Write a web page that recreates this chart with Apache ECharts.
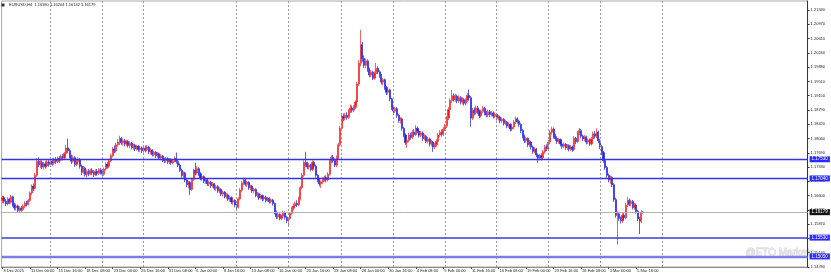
<!DOCTYPE html>
<html><head><meta charset="utf-8">
<script src="https://cdn.jsdelivr.net/npm/echarts@6/dist/echarts.min.js"></script>
<style>html,body{margin:0;padding:0;background:#fff;}#c{width:831px;height:279px;}</style>
</head><body><div id="c"></div>
<script>
const symbolTitle = 'EURUSD,H4';
const headerOHLC = ['1.16180', '1.16204', '1.16142', '1.16179'];
const xTickLabels = ['8 Dec 2025', '11 Dec 00:00', '15 Dec 16:00', '18 Dec 08:00', '23 Dec 00:00', '26 Dec 16:00',
  '31 Dec 08:00', '6 Jan 00:00', '8 Jan 16:00', '13 Jan 08:00', '16 Jan 00:00', '20 Jan 16:00', '23 Jan 08:00',
  '28 Jan 00:00', '30 Jan 16:00', '4 Feb 08:00', '9 Feb 00:00', '11 Feb 16:00', '16 Feb 08:00', '19 Feb 00:00',
  '23 Feb 16:00', '26 Feb 08:00', '3 Mar 00:00', '5 Mar 16:00'];
const yTickLabels = ['1.14780', '1.15140', '1.15510', '1.15870', '1.16230', '1.16600', '1.16960', '1.17330',
  '1.17690', '1.18060', '1.18420', '1.18790', '1.19150', '1.19510', '1.19880', '1.20240', '1.20610', '1.20970', '1.21340'];
const yTickStep = 0.00364381;
const yFirstTick = 1.14780;
const yTop = 1.21569;
// [open, close, low, high]
const candles = [
[1.1648,1.1655,1.1641,1.1660],[1.1655,1.1646,1.1640,1.1659],[1.1646,1.1639,1.1633,1.1651],[1.1639,1.1651,1.1635,1.1656],
[1.1651,1.1643,1.1638,1.1655],[1.1643,1.1657,1.1640,1.1662],[1.1657,1.1636,1.1632,1.1660],[1.1636,1.1629,1.1623,1.1642],
[1.1629,1.1634,1.1622,1.1640],[1.1634,1.1622,1.1617,1.1637],[1.1622,1.1628,1.1618,1.1633],[1.1628,1.1625,1.1619,1.1634],
[1.1625,1.1633,1.1621,1.1638],[1.1633,1.1641,1.1628,1.1646],[1.1641,1.1638,1.1632,1.1647],[1.1638,1.1648,1.1635,1.1652],
[1.1648,1.1667,1.1644,1.1671],[1.1667,1.1684,1.1662,1.1689],[1.1684,1.1679,1.1672,1.1691],[1.1679,1.1712,1.1676,1.1718],
[1.1712,1.1748,1.1708,1.1756],[1.1748,1.1739,1.1733,1.1758],[1.1739,1.1745,1.1731,1.1751],[1.1745,1.1733,1.1728,1.1750],
[1.1733,1.1741,1.1727,1.1746],[1.1741,1.1736,1.1729,1.1748],[1.1736,1.1746,1.1732,1.1752],[1.1746,1.1740,1.1734,1.1751],
[1.1740,1.1748,1.1735,1.1754],[1.1748,1.1743,1.1737,1.1755],[1.1743,1.1752,1.1739,1.1757],[1.1752,1.1747,1.1741,1.1758],
[1.1747,1.1755,1.1743,1.1760],[1.1755,1.1751,1.1744,1.1761],[1.1751,1.1760,1.1748,1.1765],[1.1760,1.1756,1.1750,1.1766],
[1.1756,1.1768,1.1752,1.1772],[1.1768,1.1782,1.1763,1.1790],[1.1782,1.1775,1.1768,1.1806],[1.1775,1.1760,1.1755,1.1780],
[1.1760,1.1748,1.1741,1.1765],[1.1748,1.1757,1.1744,1.1763],[1.1757,1.1740,1.1734,1.1761],[1.1740,1.1746,1.1736,1.1752],
[1.1746,1.1752,1.1740,1.1758],[1.1752,1.1735,1.1729,1.1756],[1.1735,1.1720,1.1713,1.1739],[1.1720,1.1730,1.1716,1.1736],
[1.1730,1.1714,1.1709,1.1734],[1.1714,1.1722,1.1707,1.1727],[1.1722,1.1716,1.1710,1.1728],[1.1716,1.1724,1.1712,1.1729],
[1.1724,1.1719,1.1713,1.1730],[1.1719,1.1714,1.1708,1.1725],[1.1714,1.1722,1.1710,1.1727],[1.1722,1.1717,1.1711,1.1728],
[1.1717,1.1726,1.1713,1.1730],[1.1726,1.1719,1.1714,1.1731],[1.1719,1.1715,1.1709,1.1724],[1.1715,1.1728,1.1711,1.1732],
[1.1728,1.1740,1.1724,1.1745],[1.1740,1.1735,1.1729,1.1746],[1.1735,1.1749,1.1731,1.1754],[1.1749,1.1762,1.1745,1.1767],
[1.1762,1.1779,1.1758,1.1784],[1.1779,1.1774,1.1768,1.1788],[1.1774,1.1790,1.1770,1.1795],[1.1790,1.1797,1.1785,1.1804],
[1.1797,1.1806,1.1789,1.1813],[1.1806,1.1795,1.1790,1.1810],[1.1795,1.1800,1.1788,1.1806],[1.1800,1.1792,1.1786,1.1805],
[1.1792,1.1798,1.1787,1.1803],[1.1798,1.1788,1.1783,1.1802],[1.1788,1.1794,1.1781,1.1799],[1.1794,1.1783,1.1778,1.1797],
[1.1783,1.1789,1.1777,1.1793],[1.1789,1.1780,1.1774,1.1792],[1.1780,1.1786,1.1775,1.1790],[1.1786,1.1778,1.1772,1.1789],
[1.1778,1.1782,1.1771,1.1787],[1.1782,1.1775,1.1769,1.1786],[1.1775,1.1781,1.1770,1.1785],[1.1781,1.1777,1.1771,1.1788],
[1.1777,1.1784,1.1773,1.1789],[1.1784,1.1772,1.1766,1.1787],[1.1772,1.1776,1.1765,1.1781],[1.1776,1.1765,1.1760,1.1779],
[1.1765,1.1771,1.1761,1.1775],[1.1771,1.1762,1.1756,1.1774],[1.1762,1.1767,1.1757,1.1772],[1.1767,1.1756,1.1751,1.1770],
[1.1756,1.1761,1.1750,1.1766],[1.1761,1.1752,1.1746,1.1764],[1.1752,1.1749,1.1743,1.1757],[1.1749,1.1755,1.1744,1.1759],
[1.1755,1.1746,1.1741,1.1758],[1.1746,1.1751,1.1741,1.1756],[1.1751,1.1744,1.1739,1.1755],[1.1744,1.1749,1.1740,1.1753],
[1.1749,1.1755,1.1745,1.1760],[1.1755,1.1747,1.1742,1.1770],[1.1747,1.1738,1.1733,1.1751],[1.1738,1.1725,1.1720,1.1742],
[1.1725,1.1712,1.1706,1.1729],[1.1712,1.1718,1.1704,1.1722],[1.1718,1.1700,1.1694,1.1721],[1.1700,1.1688,1.1682,1.1704],
[1.1688,1.1694,1.1679,1.1698],[1.1694,1.1676,1.1662,1.1697],[1.1676,1.1702,1.1672,1.1706],[1.1702,1.1725,1.1698,1.1729],
[1.1725,1.1718,1.1712,1.1744],[1.1718,1.1729,1.1714,1.1735],[1.1729,1.1716,1.1710,1.1733],[1.1716,1.1704,1.1699,1.1720],
[1.1704,1.1709,1.1698,1.1713],[1.1709,1.1697,1.1692,1.1712],[1.1697,1.1701,1.1690,1.1706],[1.1701,1.1690,1.1685,1.1705],
[1.1690,1.1694,1.1684,1.1699],[1.1694,1.1686,1.1680,1.1698],[1.1686,1.1690,1.1681,1.1695],[1.1690,1.1679,1.1674,1.1693],
[1.1679,1.1683,1.1673,1.1688],[1.1683,1.1672,1.1667,1.1687],[1.1672,1.1676,1.1666,1.1681],[1.1676,1.1664,1.1659,1.1679],
[1.1664,1.1669,1.1658,1.1673],[1.1669,1.1658,1.1653,1.1672],[1.1658,1.1662,1.1652,1.1667],[1.1662,1.1651,1.1646,1.1665],
[1.1651,1.1655,1.1645,1.1660],[1.1655,1.1644,1.1639,1.1658],[1.1644,1.1648,1.1637,1.1652],[1.1648,1.1636,1.1630,1.1651],
[1.1636,1.1631,1.1622,1.1640],[1.1631,1.1652,1.1627,1.1656],[1.1652,1.1674,1.1648,1.1679],[1.1674,1.1693,1.1669,1.1698],
[1.1693,1.1700,1.1687,1.1706],[1.1700,1.1689,1.1684,1.1703],[1.1689,1.1694,1.1683,1.1698],[1.1694,1.1680,1.1675,1.1697],
[1.1680,1.1684,1.1674,1.1688],[1.1684,1.1672,1.1667,1.1687],[1.1672,1.1676,1.1666,1.1680],[1.1676,1.1661,1.1656,1.1679],
[1.1661,1.1665,1.1655,1.1670],[1.1665,1.1654,1.1649,1.1668],[1.1654,1.1660,1.1650,1.1664],[1.1660,1.1652,1.1646,1.1663],
[1.1652,1.1656,1.1647,1.1661],[1.1656,1.1648,1.1643,1.1660],[1.1648,1.1653,1.1644,1.1657],[1.1653,1.1645,1.1640,1.1656],
[1.1645,1.1649,1.1640,1.1653],[1.1649,1.1640,1.1635,1.1652],[1.1640,1.1618,1.1612,1.1643],[1.1618,1.1606,1.1600,1.1622],
[1.1606,1.1612,1.1601,1.1616],[1.1612,1.1602,1.1597,1.1615],[1.1602,1.1608,1.1598,1.1612],[1.1608,1.1617,1.1603,1.1622],
[1.1617,1.1605,1.1599,1.1620],[1.1605,1.1596,1.1590,1.1609],[1.1596,1.1602,1.1581,1.1606],[1.1602,1.1615,1.1598,1.1619],
[1.1615,1.1628,1.1611,1.1632],[1.1628,1.1634,1.1623,1.1640],[1.1634,1.1640,1.1629,1.1645],[1.1640,1.1637,1.1631,1.1648],
[1.1637,1.1652,1.1633,1.1657],[1.1652,1.1680,1.1648,1.1685],[1.1680,1.1712,1.1676,1.1718],[1.1712,1.1745,1.1708,1.1750],
[1.1745,1.1740,1.1734,1.1772],[1.1740,1.1733,1.1727,1.1747],[1.1733,1.1738,1.1727,1.1743],[1.1738,1.1727,1.1722,1.1741],
[1.1727,1.1745,1.1723,1.1750],[1.1745,1.1735,1.1729,1.1749],[1.1735,1.1712,1.1706,1.1739],[1.1712,1.1700,1.1694,1.1715],
[1.1700,1.1690,1.1684,1.1704],[1.1690,1.1695,1.1680,1.1699],[1.1695,1.1701,1.1690,1.1706],[1.1701,1.1706,1.1696,1.1711],
[1.1706,1.1700,1.1694,1.1712],[1.1700,1.1715,1.1696,1.1720],[1.1715,1.1748,1.1711,1.1753],[1.1748,1.1758,1.1742,1.1763],
[1.1758,1.1750,1.1744,1.1764],[1.1750,1.1738,1.1733,1.1755],[1.1738,1.1757,1.1733,1.1762],[1.1757,1.1790,1.1752,1.1795],
[1.1790,1.1832,1.1786,1.1838],[1.1832,1.1862,1.1827,1.1868],[1.1862,1.1858,1.1850,1.1870],[1.1858,1.1865,1.1852,1.1871],
[1.1865,1.1860,1.1854,1.1873],[1.1860,1.1876,1.1856,1.1881],[1.1876,1.1884,1.1871,1.1893],[1.1884,1.1878,1.1872,1.1890],
[1.1878,1.1886,1.1873,1.1891],[1.1886,1.1899,1.1881,1.1904],[1.1899,1.1945,1.1894,1.1951],[1.1945,1.1998,1.1940,1.2006],
[1.1998,1.2045,1.1990,1.2083],[1.2045,1.2010,1.2002,1.2052],[1.2010,1.1993,1.1986,1.2018],[1.1993,1.2004,1.1985,1.2010],
[1.2004,1.1982,1.1976,1.2008],[1.1982,1.1968,1.1962,1.1987],[1.1968,1.1975,1.1963,1.1981],[1.1975,1.1960,1.1955,1.1979],
[1.1960,1.1972,1.1956,1.1977],[1.1972,1.1985,1.1967,1.1999],[1.1985,1.1976,1.1970,1.1990],[1.1976,1.1967,1.1961,1.1980],
[1.1967,1.1950,1.1944,1.1971],[1.1950,1.1956,1.1942,1.1960],[1.1956,1.1936,1.1930,1.1959],[1.1936,1.1924,1.1917,1.1940],
[1.1924,1.1930,1.1918,1.1935],[1.1930,1.1907,1.1901,1.1933],[1.1907,1.1885,1.1879,1.1910],[1.1885,1.1876,1.1870,1.1890],
[1.1876,1.1882,1.1871,1.1887],[1.1882,1.1865,1.1859,1.1886],[1.1865,1.1852,1.1846,1.1869],[1.1852,1.1856,1.1844,1.1861],
[1.1856,1.1832,1.1826,1.1859],[1.1832,1.1815,1.1809,1.1836],[1.1815,1.1796,1.1790,1.1819],[1.1796,1.1801,1.1782,1.1806],
[1.1801,1.1815,1.1796,1.1820],[1.1815,1.1809,1.1803,1.1821],[1.1809,1.1822,1.1804,1.1827],[1.1822,1.1816,1.1810,1.1830],
[1.1816,1.1832,1.1812,1.1840],[1.1832,1.1825,1.1819,1.1837],[1.1825,1.1814,1.1808,1.1829],[1.1814,1.1820,1.1809,1.1825],
[1.1820,1.1806,1.1800,1.1824],[1.1806,1.1812,1.1801,1.1817],[1.1812,1.1799,1.1794,1.1815],[1.1799,1.1805,1.1793,1.1810],
[1.1805,1.1792,1.1786,1.1808],[1.1792,1.1797,1.1786,1.1802],[1.1797,1.1784,1.1772,1.1800],[1.1784,1.1790,1.1779,1.1795],
[1.1790,1.1799,1.1785,1.1804],[1.1799,1.1815,1.1795,1.1820],[1.1815,1.1822,1.1809,1.1827],[1.1822,1.1817,1.1811,1.1829],
[1.1817,1.1830,1.1812,1.1836],[1.1830,1.1838,1.1825,1.1843],[1.1838,1.1858,1.1833,1.1863],[1.1858,1.1880,1.1853,1.1886],
[1.1880,1.1903,1.1875,1.1908],[1.1903,1.1915,1.1897,1.1930],[1.1915,1.1906,1.1900,1.1921],[1.1906,1.1914,1.1900,1.1920],
[1.1914,1.1902,1.1896,1.1918],[1.1902,1.1910,1.1897,1.1916],[1.1910,1.1899,1.1893,1.1914],[1.1899,1.1905,1.1893,1.1911],
[1.1905,1.1896,1.1890,1.1909],[1.1896,1.1904,1.1891,1.1909],[1.1904,1.1916,1.1899,1.1922],[1.1916,1.1910,1.1903,1.1931],
[1.1910,1.1858,1.1836,1.1914],[1.1858,1.1878,1.1853,1.1884],[1.1878,1.1872,1.1865,1.1885],[1.1872,1.1884,1.1867,1.1890],
[1.1884,1.1876,1.1869,1.1889],[1.1876,1.1864,1.1858,1.1880],[1.1864,1.1875,1.1860,1.1880],[1.1875,1.1883,1.1870,1.1889],
[1.1883,1.1870,1.1865,1.1887],[1.1870,1.1866,1.1860,1.1876],[1.1866,1.1874,1.1861,1.1880],[1.1874,1.1867,1.1861,1.1879],
[1.1867,1.1871,1.1862,1.1876],[1.1871,1.1863,1.1857,1.1875],[1.1863,1.1868,1.1858,1.1873],[1.1868,1.1858,1.1852,1.1871],
[1.1858,1.1861,1.1852,1.1866],[1.1861,1.1851,1.1845,1.1864],[1.1851,1.1855,1.1846,1.1860],[1.1855,1.1845,1.1839,1.1858],
[1.1845,1.1848,1.1840,1.1853],[1.1848,1.1838,1.1832,1.1851],[1.1838,1.1842,1.1833,1.1847],[1.1842,1.1830,1.1824,1.1845],
[1.1830,1.1835,1.1825,1.1840],[1.1835,1.1848,1.1830,1.1853],[1.1848,1.1856,1.1843,1.1862],[1.1856,1.1850,1.1844,1.1860],
[1.1850,1.1842,1.1836,1.1854],[1.1842,1.1826,1.1820,1.1845],[1.1826,1.1812,1.1806,1.1830],[1.1812,1.1800,1.1794,1.1816],
[1.1800,1.1806,1.1795,1.1811],[1.1806,1.1790,1.1784,1.1809],[1.1790,1.1797,1.1785,1.1802],[1.1797,1.1784,1.1778,1.1800],
[1.1784,1.1773,1.1767,1.1788],[1.1773,1.1779,1.1768,1.1784],[1.1779,1.1764,1.1758,1.1782],[1.1764,1.1756,1.1744,1.1768],
[1.1756,1.1762,1.1750,1.1767],[1.1762,1.1757,1.1750,1.1768],[1.1757,1.1772,1.1752,1.1777],[1.1772,1.1785,1.1767,1.1790],
[1.1785,1.1780,1.1774,1.1791],[1.1780,1.1797,1.1776,1.1802],[1.1797,1.1822,1.1792,1.1827],[1.1822,1.1830,1.1816,1.1836],
[1.1830,1.1812,1.1806,1.1834],[1.1812,1.1806,1.1800,1.1818],[1.1806,1.1798,1.1792,1.1812],[1.1798,1.1803,1.1793,1.1808],
[1.1803,1.1792,1.1786,1.1806],[1.1792,1.1786,1.1780,1.1797],[1.1786,1.1791,1.1781,1.1796],[1.1791,1.1783,1.1777,1.1795],
[1.1783,1.1788,1.1777,1.1792],[1.1788,1.1779,1.1773,1.1791],[1.1779,1.1784,1.1774,1.1789],[1.1784,1.1778,1.1772,1.1788],
[1.1778,1.1806,1.1774,1.1812],[1.1806,1.1798,1.1792,1.1810],[1.1798,1.1820,1.1794,1.1825],[1.1820,1.1826,1.1815,1.1833],
[1.1826,1.1812,1.1806,1.1830],[1.1812,1.1805,1.1799,1.1816],[1.1805,1.1810,1.1799,1.1815],[1.1810,1.1797,1.1791,1.1813],
[1.1797,1.1802,1.1791,1.1806],[1.1802,1.1792,1.1787,1.1806],[1.1792,1.1805,1.1788,1.1810],[1.1805,1.1818,1.1800,1.1823],
[1.1818,1.1812,1.1806,1.1825],[1.1812,1.1822,1.1807,1.1832],[1.1822,1.1800,1.1794,1.1826],[1.1800,1.1785,1.1779,1.1805],
[1.1785,1.1770,1.1764,1.1790],[1.1770,1.1750,1.1744,1.1774],[1.1750,1.1732,1.1726,1.1754],[1.1732,1.1712,1.1706,1.1736],
[1.1712,1.1700,1.1694,1.1716],[1.1700,1.1706,1.1690,1.1711],[1.1706,1.1688,1.1682,1.1710],[1.1688,1.1650,1.1644,1.1692],
[1.1650,1.1610,1.1604,1.1655],[1.1610,1.1614,1.1535,1.1620],[1.1614,1.1602,1.1596,1.1619],[1.1602,1.1596,1.1589,1.1607],
[1.1596,1.1610,1.1591,1.1615],[1.1610,1.1604,1.1597,1.1618],[1.1604,1.1636,1.1600,1.1641],[1.1636,1.1648,1.1631,1.1657],
[1.1648,1.1640,1.1634,1.1653],[1.1640,1.1645,1.1633,1.1650],[1.1645,1.1630,1.1625,1.1649],[1.1630,1.1636,1.1624,1.1641],
[1.1636,1.1620,1.1614,1.1640],[1.1620,1.1601,1.1595,1.1624],[1.1601,1.1595,1.1562,1.1606],[1.1595,1.1618,1.1590,1.1623],
[1.16180,1.16179,1.16142,1.16204]
];
const levelLines = [1.17530, 1.17040, 1.15530, 1.15050];
const levelLabels = ['1.17530', '1.17040', '1.15530', '1.15050'];
const lastPrice = 1.16179;
const lastPriceLabel = '1.16179';
const separatorBars = [28, 58, 82, 136, 166, 197, 227, 257, 287, 317, 347, 383];
const totalSlots = 468;

const FONT = 'Liberation Sans, Arial, sans-serif';
const categories = Array.from({length: totalSlots}, (_, i) => String(i));
const chart = echarts.init(document.getElementById('c'), null, {renderer: 'canvas'});

const levelStyles = [
  {color: '#3434e4', width: 1.3},
  {color: '#3434e4', width: 1.3},
  {color: '#3a3ad8', width: 1.5},
  {color: '#7c7ce8', width: 2.4}
];
const markData = [];
separatorBars.forEach(b => markData.push({
  xAxis: String(b), lineStyle: {color: '#9a9a9a', type: [2, 2], width: 1}, label: {show: false}
}));
markData.push({
  yAxis: lastPrice, lineStyle: {color: '#b4b4b4', type: 'solid', width: 1},
  label: {show: true, position: 'end', formatter: lastPriceLabel, color: '#fff', backgroundColor: '#111',
    fontSize: 4.5, fontFamily: FONT, padding: [1, 2, 0, 2], distance: 2}
});
levelLines.forEach((v, i) => markData.push({
  yAxis: v, lineStyle: {color: levelStyles[i].color, type: 'solid', width: levelStyles[i].width},
  label: {show: true, position: 'end', formatter: levelLabels[i], color: '#fff', backgroundColor: '#2a2aff',
    fontSize: 4.5, fontFamily: FONT, padding: [1, 2, 0, 2], distance: 2}
}));

const tickShown = (idx) => idx % 16 === 0 && idx / 16 < xTickLabels.length;

chart.setOption({
  animation: false,
  backgroundColor: '#ffffff',
  grid: {left: 1.6, right: 23.4, top: 1, bottom: 12, show: true, borderColor: '#a8a8a8', borderWidth: 1},
  xAxis: {
    type: 'category', data: categories, boundaryGap: true,
    axisLine: {show: true, lineStyle: {color: '#8a8a8a', width: 1}},
    axisTick: {show: true, interval: (i) => tickShown(i), alignWithLabel: true, length: 2, lineStyle: {color: '#555'}},
    axisLabel: {
      interval: (i) => tickShown(i), formatter: (v, i) => xTickLabels[i / 16] || '',
      align: 'left', fontSize: 4, fontFamily: FONT, color: '#222', margin: 2, padding: [0, 0, 0, 1]
    },
    splitLine: {show: false}
  },
  yAxis: {
    type: 'value', position: 'right', scale: true,
    min: yFirstTick, max: yTop, interval: yTickStep,
    axisLine: {show: true, lineStyle: {color: '#333', width: 1}},
    axisTick: {show: true, length: 2, lineStyle: {color: '#333'}},
    axisLabel: {
      fontSize: 4, fontFamily: FONT, color: '#222', margin: 3, showMaxLabel: false,
      formatter: (v) => {
        const k = Math.round((v - yFirstTick) / yTickStep);
        if (Math.abs(v - (yFirstTick + k * yTickStep)) > 0.00005) return '';
        return yTickLabels[k] || '';
      }
    },
    splitLine: {show: false}
  },
  graphic: [
    {type: 'rect', left: 1.5, top: 3.5, shape: {width: 3, height: 3}, style: {fill: '#333'}},
    {type: 'text', left: 9, top: 3, style: {text: symbolTitle + '  ' + headerOHLC.join(' '), fontSize: 4, fontFamily: FONT, fill: '#222'}},
    {type: 'text', left: 745, top: 248, style: {text: '@ETO Markets', fontSize: 10, fontFamily: FONT, fill: 'rgba(255,255,255,0.5)', stroke: 'rgba(150,150,150,0.45)', lineWidth: 0.8}}
  ],
  series: [{
    type: 'candlestick',
    data: candles,
    barWidth: 1.6,
    itemStyle: {color: '#f01818', color0: '#1e1ee6', borderColor: '#f23a3a', borderColor0: '#3232e6', borderWidth: 0.8},
    markLine: {silent: true, symbol: ['none', 'none'], animation: false, precision: 5, data: markData}
  }]
});
</script></body></html>
